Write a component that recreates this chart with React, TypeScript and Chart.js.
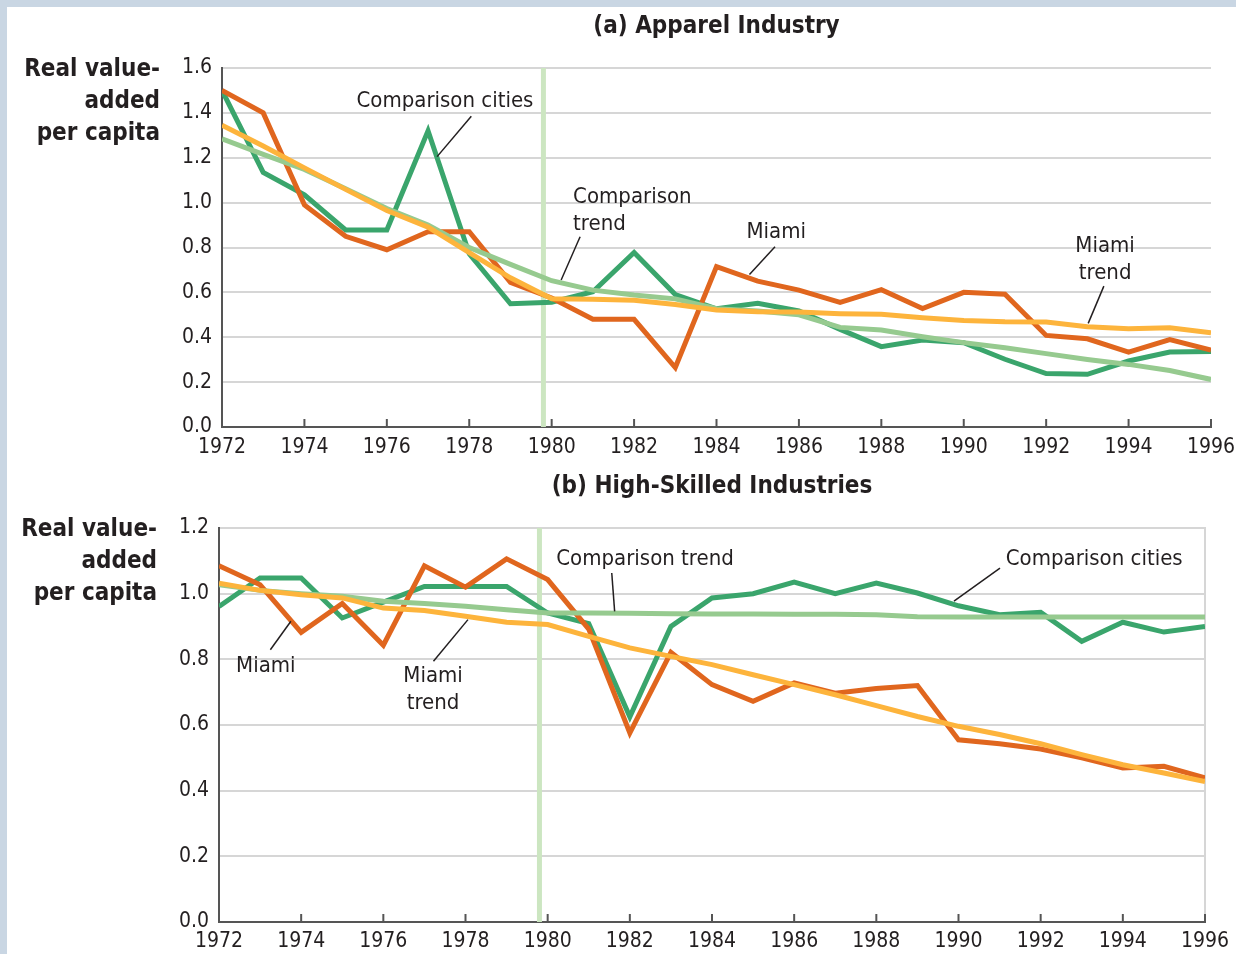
import React, { useEffect, useRef } from "react";
import { Chart, registerables } from "chart.js";

Chart.register(...registerables);

// ---------- data ----------
const YEARS = [
  1972, 1973, 1974, 1975, 1976, 1977, 1978, 1979, 1980, 1981, 1982, 1983, 1984,
  1985, 1986, 1987, 1988, 1989, 1990, 1991, 1992, 1993, 1994, 1995, 1996,
];
const X_TICKS = [1972, 1974, 1976, 1978, 1980, 1982, 1984, 1986, 1988, 1990, 1992, 1994, 1996];
const APPAREL_Y_TICKS = [0, 0.2, 0.4, 0.6, 0.8, 1.0, 1.2, 1.4, 1.6];
const SKILLED_Y_TICKS = [0, 0.2, 0.4, 0.6, 0.8, 1.0, 1.2];
const POLICY_YEAR = 1979.8;

// (a) Apparel Industry
const APPAREL_MIAMI = [
  1.5, 1.4, 0.99, 0.85, 0.79, 0.87, 0.87, 0.645, 0.575, 0.48, 0.48, 0.265, 0.715,
  0.65, 0.61, 0.555, 0.612, 0.528, 0.6, 0.592, 0.408, 0.393, 0.334, 0.39, 0.343,
];
const APPAREL_COMPARISON = [
  1.5, 1.135, 1.035, 0.878, 0.878, 1.32, 0.772, 0.549, 0.556, 0.603, 0.778, 0.59,
  0.527, 0.551, 0.517, 0.435, 0.358, 0.388, 0.376, 0.302, 0.238, 0.235, 0.294,
  0.334, 0.337,
];
const APPAREL_COMPARISON_TREND = [
  1.284, 1.215, 1.148, 1.062, 0.974, 0.9, 0.8, 0.725, 0.652, 0.61, 0.588, 0.571,
  0.527, 0.517, 0.5, 0.444, 0.432, 0.402, 0.376, 0.353, 0.327, 0.301, 0.279,
  0.252, 0.212,
];
const APPAREL_MIAMI_TREND = [
  1.345, 1.252, 1.155, 1.059, 0.965, 0.891, 0.777, 0.665, 0.572, 0.569, 0.565,
  0.546, 0.521, 0.514, 0.512, 0.505, 0.502, 0.487, 0.475, 0.469, 0.468, 0.447,
  0.438, 0.442, 0.42,
];

// (b) High-Skilled Industries
const SKILLED_MIAMI = [
  1.085, 1.027, 0.882, 0.97, 0.843, 1.085, 1.02, 1.106, 1.043, 0.892, 0.576,
  0.821, 0.723, 0.672, 0.728, 0.697, 0.711, 0.72, 0.555, 0.543, 0.527, 0.5,
  0.469, 0.474, 0.439,
];
const SKILLED_COMPARISON = [
  0.961, 1.048, 1.048, 0.926, 0.974, 1.022, 1.022, 1.022, 0.941, 0.909, 0.625,
  0.9, 0.987, 1.0, 1.035, 1.0, 1.032, 1.002, 0.963, 0.936, 0.943, 0.855, 0.913,
  0.883, 0.9,
];
const SKILLED_COMPARISON_TREND = [
  1.027, 1.01, 1.0, 0.992, 0.977, 0.97, 0.962, 0.951, 0.941, 0.941, 0.94, 0.939,
  0.938, 0.938, 0.937, 0.937, 0.936, 0.93, 0.929, 0.929, 0.929, 0.929, 0.929,
  0.929, 0.929,
];
const SKILLED_MIAMI_TREND = [
  1.032, 1.01, 0.997, 0.987, 0.956, 0.949, 0.931, 0.913, 0.906, 0.87, 0.835,
  0.809, 0.784, 0.753, 0.723, 0.692, 0.659, 0.626, 0.596, 0.571, 0.543, 0.51,
  0.479, 0.454, 0.428,
];

// ---------- styles ----------
const FONT = '"DejaVu Sans Condensed", "Liberation Sans Narrow", "DejaVu Sans", sans-serif';
const TEXT = "#231f20";
const C_MIAMI = "#e0661e";
const C_COMP = "#3aa56c";
const C_COMP_TREND = "#96ca8f";
const C_MIAMI_TREND = "#fdb43c";
const C_POLICY = "#cce6c1";
const C_GRID = "#d6d6d6";
const C_AXIS = "#555555";

type Note = {
  lines: string[];
  x: number;
  y: number;
  align: "center" | "left";
  leader: [number, number, number, number];
};

const APPAREL_NOTES: Note[] = [
  { lines: ["Comparison cities"], x: 1977.41, y: 1.453, align: "center", leader: [1978.05, 1.385, 1977.22, 1.205] },
  { lines: ["Comparison", "trend"], x: 1980.52, y: 1.025, align: "left", leader: [1980.69, 0.848, 1980.23, 0.655] },
  { lines: ["Miami"], x: 1985.45, y: 0.869, align: "center", leader: [1985.42, 0.803, 1984.8, 0.68] },
  { lines: ["Miami", "trend"], x: 1993.43, y: 0.807, align: "center", leader: [1993.4, 0.628, 1993.02, 0.462] },
];

const SKILLED_NOTES: Note[] = [
  { lines: ["Miami"], x: 1973.14, y: 0.78, align: "center", leader: [1973.25, 0.829, 1973.75, 0.916] },
  { lines: ["Miami", "trend"], x: 1977.21, y: 0.749, align: "center", leader: [1977.22, 0.794, 1978.06, 0.921] },
  { lines: ["Comparison trend"], x: 1982.37, y: 1.106, align: "center", leader: [1981.56, 1.063, 1981.63, 0.946] },
  { lines: ["Comparison cities"], x: 1991.15, y: 1.106, align: "left", leader: [1991.01, 1.078, 1989.89, 0.977] },
];

type PanelSpec = {
  title: string;
  yMax: number;
  yTicks: number[];
  miami: number[];
  comparison: number[];
  comparisonTrend: number[];
  miamiTrend: number[];
  notes: Note[];
  rightBorder: boolean;
  width: number;
  height: number;
  yAxisWidth: number;
  xAxisHeight: number;
  xPad: number;
  padTop: number;
  padRight: number;
};

const PANEL_A: PanelSpec = {
  title: "(a) Apparel Industry",
  yMax: 1.6,
  yTicks: APPAREL_Y_TICKS,
  miami: APPAREL_MIAMI,
  comparison: APPAREL_COMPARISON,
  comparisonTrend: APPAREL_COMPARISON_TREND,
  miamiTrend: APPAREL_MIAMI_TREND,
  notes: APPAREL_NOTES,
  rightBorder: false,
  width: 1236,
  height: 470,
  yAxisWidth: 222,
  xAxisHeight: 43,
  xPad: 8,
  padTop: 68,
  padRight: 25,
};

const PANEL_B: PanelSpec = {
  title: "(b) High-Skilled Industries",
  yMax: 1.2,
  yTicks: SKILLED_Y_TICKS,
  miami: SKILLED_MIAMI,
  comparison: SKILLED_COMPARISON,
  comparisonTrend: SKILLED_COMPARISON_TREND,
  miamiTrend: SKILLED_MIAMI_TREND,
  notes: SKILLED_NOTES,
  rightBorder: true,
  width: 1236,
  height: 484,
  yAxisWidth: 219,
  xAxisHeight: 32,
  xPad: 7,
  padTop: 58,
  padRight: 31,
};

function makeDecor(spec: PanelSpec) {
  return {
    id: "decor",
    beforeDatasetsDraw(chart: any) {
      const { ctx, chartArea: a, scales } = chart;
      const xs = scales.x;
      ctx.save();
      if (spec.rightBorder) {
        ctx.strokeStyle = C_GRID;
        ctx.lineWidth = 2;
        ctx.beginPath();
        ctx.moveTo(a.right, a.top - 1);
        ctx.lineTo(a.right, a.bottom);
        ctx.stroke();
      }
      // policy marker
      const px = xs.getPixelForValue(POLICY_YEAR);
      ctx.strokeStyle = C_POLICY;
      ctx.lineWidth = 5;
      ctx.beginPath();
      ctx.moveTo(px, a.top);
      ctx.lineTo(px, a.bottom);
      ctx.stroke();
      // inward tick marks
      ctx.strokeStyle = C_AXIS;
      ctx.lineWidth = 2;
      for (const t of X_TICKS) {
        const tx = xs.getPixelForValue(t);
        ctx.beginPath();
        ctx.moveTo(tx, a.bottom);
        ctx.lineTo(tx, a.bottom - 8);
        ctx.stroke();
      }
      ctx.restore();
    },
    afterDraw(chart: any) {
      const { ctx, chartArea: a, scales } = chart;
      const xs = scales.x;
      const ys = scales.y;
      ctx.save();
      ctx.fillStyle = TEXT;
      ctx.textBaseline = "middle";
      // title
      ctx.font = `bold 24px ${FONT}`;
      ctx.textAlign = "center";
      ctx.fillText(spec.title, (a.left + a.right) / 2, a.top - 41);
      // y-axis label
      ctx.font = `bold 24px ${FONT}`;
      ctx.textAlign = "right";
      ["Real value-", "added", "per capita"].forEach((s, i) => {
        ctx.fillText(s, a.left - 62, a.top + 2 + i * 32);
      });
      // annotations
      ctx.font = `22px ${FONT}`;
      for (const n of spec.notes) {
        ctx.textAlign = n.align;
        const nx = xs.getPixelForValue(n.x);
        const ny = ys.getPixelForValue(n.y);
        n.lines.forEach((s, i) => ctx.fillText(s, nx, ny + i * 27));
        ctx.strokeStyle = TEXT;
        ctx.lineWidth = 1.5;
        ctx.beginPath();
        ctx.moveTo(xs.getPixelForValue(n.leader[0]), ys.getPixelForValue(n.leader[1]));
        ctx.lineTo(xs.getPixelForValue(n.leader[2]), ys.getPixelForValue(n.leader[3]));
        ctx.stroke();
      }
      ctx.restore();
    },
  };
}

function series(values: number[]) {
  return YEARS.map((yr, i) => ({ x: yr, y: values[i] }));
}

function buildChart(canvas: HTMLCanvasElement, spec: PanelSpec) {
  const lineDefaults = {
    borderWidth: 5,
    pointRadius: 0,
    pointHoverRadius: 0,
    fill: false,
    tension: 0,
    borderJoinStyle: "miter" as const,
    borderCapStyle: "butt" as const,
  };
  return new Chart(canvas, {
    type: "line",
    data: {
      datasets: [
        { ...lineDefaults, label: "Miami trend", data: series(spec.miamiTrend), borderColor: C_MIAMI_TREND, order: 0 },
        { ...lineDefaults, label: "Comparison trend", data: series(spec.comparisonTrend), borderColor: C_COMP_TREND, order: 1 },
        { ...lineDefaults, label: "Miami", data: series(spec.miami), borderColor: C_MIAMI, order: 2 },
        { ...lineDefaults, label: "Comparison cities", data: series(spec.comparison), borderColor: C_COMP, order: 3 },
      ],
    },
    options: {
      animation: false,
      responsive: false,
      maintainAspectRatio: false,
      devicePixelRatio: 1,
      layout: { padding: { top: spec.padTop, right: spec.padRight, left: 0, bottom: 0 } },
      plugins: {
        legend: { display: false },
        tooltip: { enabled: false },
        title: { display: false },
      },
      events: [],
      scales: {
        x: {
          type: "linear",
          min: 1972,
          max: 1996,
          afterBuildTicks: (s: any) => {
            s.ticks = X_TICKS.map((v) => ({ value: v }));
          },
          afterFit: (s: any) => {
            s.height = spec.xAxisHeight;
            s.paddingLeft = 0;
            s.paddingRight = 0;
          },
          ticks: {
            autoSkip: false,
            maxRotation: 0,
            padding: spec.xPad,
            color: TEXT,
            font: { family: FONT, size: 21 },
            callback: (v: any) => String(v),
          },
          grid: { display: false, drawTicks: false },
          border: { display: true, color: C_AXIS, width: 2 },
        },
        y: {
          type: "linear",
          min: 0,
          max: spec.yMax,
          afterBuildTicks: (s: any) => {
            s.ticks = spec.yTicks.map((v) => ({ value: v }));
          },
          afterFit: (s: any) => {
            s.width = spec.yAxisWidth;
            s.paddingTop = 0;
            s.paddingBottom = 0;
          },
          ticks: {
            autoSkip: false,
            padding: 10,
            color: TEXT,
            font: { family: FONT, size: 21 },
            callback: (v: any) => Number(v).toFixed(1),
          },
          grid: { color: C_GRID, lineWidth: 2, drawTicks: false },
          border: { display: true, color: C_AXIS, width: 2 },
        },
      },
    },
    plugins: [makeDecor(spec)],
  } as any);
}

export default function App() {
  const refA = useRef<HTMLCanvasElement | null>(null);
  const refB = useRef<HTMLCanvasElement | null>(null);

  useEffect(() => {
    const charts: Chart[] = [];
    if (refA.current) charts.push(buildChart(refA.current, PANEL_A));
    if (refB.current) charts.push(buildChart(refB.current, PANEL_B));
    return () => charts.forEach((c) => c.destroy());
  }, []);

  return (
    <div style={{ position: "absolute", left: 0, top: 0, width: 1236, height: 954, background: "#ffffff", overflow: "hidden" }}>
      <div style={{ position: "absolute", left: 0, top: 0, width: 1236, height: 7, background: "#c9d6e3" }} />
      <div style={{ position: "absolute", left: 0, top: 0, width: 7, height: 954, background: "#c9d6e3" }} />
      <canvas
        ref={refA}
        width={PANEL_A.width}
        height={PANEL_A.height}
        style={{ position: "absolute", left: 0, top: 0, width: PANEL_A.width, height: PANEL_A.height }}
      />
      <canvas
        ref={refB}
        width={PANEL_B.width}
        height={PANEL_B.height}
        style={{ position: "absolute", left: 0, top: PANEL_A.height, width: PANEL_B.width, height: PANEL_B.height }}
      />
    </div>
  );
}
